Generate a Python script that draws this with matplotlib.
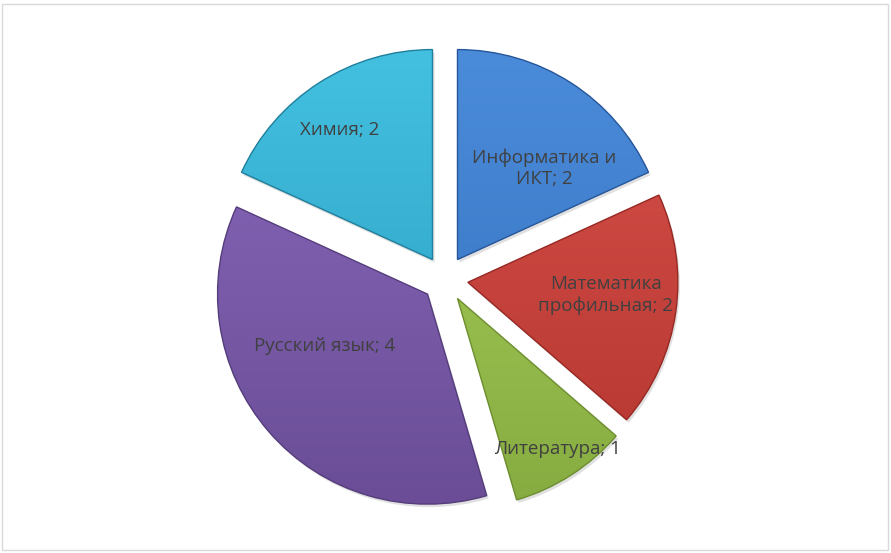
import numpy as np
import matplotlib
matplotlib.use('Agg')
import matplotlib.pyplot as plt
from matplotlib.patches import Rectangle, Wedge
from matplotlib.colors import LinearSegmentedColormap

# Data (clockwise from 12 o'clock)
subjects = ['Информатика и\nИКТ', 'Математика\nпрофильная', 'Литература', 'Русский язык', 'Химия']
counts = [2, 2, 1, 4, 2]

# light / dark shades per slice (Excel-style gradient)
light_colors = ['#4b8cda', '#d65049', '#a9cf5d', '#8767ba', '#43c0e0']
dark_colors = ['#3370bd', '#b53630', '#86ab40', '#6a4d96', '#2b9dbf']
edge_colors = ['#26569a', '#962823', '#6c8e2e', '#553d7c', '#1f7f9c']

# label placement: distance as fraction of radius, angle nudge in degrees (ccw)
label_dist = [0.60, 0.66, 0.86, 0.55, 0.76]
label_nudge = [-11, 3, 1, -14, 3]

W, H = 891, 553
fig = plt.figure(figsize=(W / 100, H / 100), dpi=100)
ax = fig.add_axes([0, 0, 1, 1])

cx, cy, R = 445, H - 279, 210
# explode is in data units here (pixels), ~10% of the radius
explode = [0.11 * R] * len(counts)

wedges, _ = ax.pie(counts, startangle=90, counterclock=False,
                   center=(cx, cy), radius=R, explode=explode,
                   colors=light_colors, frame=False)

ax.axis('off')

# gradient fill clipped to each wedge, plus a subtle shadow
grad = np.linspace(0, 1, 256).reshape(-1, 1)
for i, w in enumerate(wedges):
    w.set_facecolor('none')
    w.set_edgecolor(edge_colors[i])
    w.set_linewidth(1.0)
    w.set_zorder(3)
    # shadow
    sh = Wedge((w.center[0] + 2, w.center[1] - 3), w.r, w.theta1, w.theta2,
               facecolor='#000000', alpha=0.12, edgecolor='none', zorder=1)
    ax.add_patch(sh)
    cmap = LinearSegmentedColormap.from_list('g%d' % i, [dark_colors[i], light_colors[i]])
    x0, x1 = w.center[0] - R, w.center[0] + R
    y0, y1 = w.center[1] - R, w.center[1] + R
    im = ax.imshow(grad, cmap=cmap, extent=(x0, x1, y0, y1), origin='lower',
                   aspect='auto', zorder=2, interpolation='bilinear')
    im.set_clip_path(w)

    # label
    ang = np.deg2rad((w.theta1 + w.theta2) / 2 + label_nudge[i])
    tx = w.center[0] + label_dist[i] * R * np.cos(ang)
    ty = w.center[1] + label_dist[i] * R * np.sin(ang)
    ax.text(tx, ty, f'{subjects[i]}; {counts[i]}', ha='center', va='center',
            fontsize=13.5, color='#404040', family='Open Sans', zorder=5,
            linespacing=1.2)

ax.set_xlim(0, W)
ax.set_ylim(0, H)
ax.set_aspect('equal')

# outer frame
fig.patches.append(Rectangle((2 / W, 3 / H), (W - 5) / W, (H - 7) / H, transform=fig.transFigure,
                             fill=False, edgecolor='#d9d9d9', linewidth=1))

fig.savefig('out.png', dpi=100, facecolor='white')
